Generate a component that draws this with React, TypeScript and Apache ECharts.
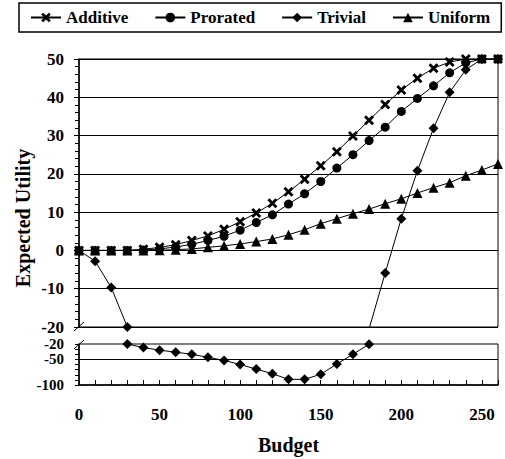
import React, { useEffect, useRef } from 'react';
import * as echarts from 'echarts';

const budget = [0, 10, 20, 30, 40, 50, 60, 70, 80, 90, 100, 110, 120, 130, 140, 150, 160, 170, 180, 190, 200, 210, 220, 230, 240, 250, 260];
const additive = [0, 0, 0, 0, 0.3, 0.8, 1.5, 2.6, 3.8, 5.5, 7.5, 9.8, 12.3, 15.3, 18.6, 22.1, 25.8, 29.9, 34.0, 38.1, 41.9, 45.0, 47.6, 49.2, 50, 50, 50];
const prorated = [0, 0, 0, 0, 0.1, 0.4, 0.9, 1.6, 2.6, 3.7, 5.3, 7.3, 9.3, 12.1, 14.8, 18.0, 21.5, 25.0, 28.7, 32.2, 36.3, 39.7, 43.0, 46.4, 49.0, 50, 50];
const trivial = [0, -2.8, -9.7, -20, -27, -32, -36, -40, -46, -52, -60, -69, -78, -89, -89, -79, -59, -40, -20.5, -5.9, 8.3, 20.8, 31.9, 41.3, 47.2, 50, 50];
const uniform = [0, 0, 0, 0, 0, 0.05, 0.2, 0.4, 0.8, 1.2, 1.7, 2.3, 3.0, 4.1, 5.4, 7.0, 8.3, 9.6, 10.8, 12.2, 13.5, 15.0, 16.4, 17.7, 19.5, 21.0, 22.6];
const xTickLabels = [0, 50, 100, 150, 200, 250];
const lowerTickLabels = [-20, -50, -100];
const seriesNames = ['Additive', 'Prorated', 'Trivial', 'Uniform'];

export default function App() {
  const ref = useRef<HTMLDivElement>(null);
  useEffect(() => {
    const chart = echarts.init(ref.current as HTMLDivElement, null, { renderer: 'svg' });
    const font = 'Liberation Serif';
    const pts = (vals: number[]) => budget.map((b, i) => [b, vals[i]]);
    const cross = 'path://M2,0 L5,3 L8,0 L10,2 L7,5 L10,8 L8,10 L5,7 L2,10 L0,8 L3,5 L0,2 Z';
    const base = {
      type: 'line',
      clip: true,
      lineStyle: { color: '#000', width: 1 },
      itemStyle: { color: '#000' },
      emphasis: { disabled: true },
    };
    const labelStyle = { color: '#000', fontFamily: font, fontWeight: 'bold', fontSize: 17 };
    const left = 79;
    const right = 7;
    const option: any = {
      animation: false,
      backgroundColor: '#fff',
      textStyle: { fontFamily: font },
      legend: {
        data: seriesNames,
        left: 19,
        top: 3,
        padding: [6, 11, 6, 11],
        itemWidth: 30,
        itemHeight: 12,
        itemGap: 26,
        borderColor: '#000',
        borderWidth: 1.5,
        textStyle: labelStyle,
      },
      grid: [
        { left, right, top: 59, height: 268, show: true, borderColor: '#000', borderWidth: 1, backgroundColor: 'transparent' },
        { left, right, top: 344, height: 41, show: true, borderColor: '#000', borderWidth: 1, backgroundColor: 'transparent' },
      ],
      xAxis: [
        {
          type: 'value', gridIndex: 0, min: 0, max: 260, interval: 10,
          axisLine: { show: true, lineStyle: { color: '#000', width: 1 } },
          axisTick: { show: false }, axisLabel: { show: false }, splitLine: { show: false },
        },
        {
          type: 'value', gridIndex: 1, min: 0, max: 260, interval: 10,
          axisLine: { show: true, lineStyle: { color: '#000', width: 1.5 } },
          axisTick: { show: true, inside: true, length: 5, lineStyle: { color: '#000' } },
          axisLabel: {
            ...labelStyle, margin: 21,
            formatter: (v: number) => (xTickLabels.includes(v) ? String(v) : ''),
          },
          splitLine: { show: false },
          name: 'Budget', nameLocation: 'middle', nameGap: 50,
          nameTextStyle: { color: '#000', fontFamily: font, fontWeight: 'bold', fontSize: 20 },
        },
      ],
      yAxis: [
        {
          type: 'value', gridIndex: 0, min: -20, max: 50, interval: 10,
          axisLine: { show: true, lineStyle: { color: '#000', width: 1.5 } },
          axisTick: { show: true, inside: false, length: 5, lineStyle: { color: '#000' } },
          minorTick: { show: true, splitNumber: 5, length: 4, lineStyle: { color: '#000' } },
          axisLabel: { ...labelStyle, margin: 15, lineHeight: 13 },
          splitLine: { show: true, lineStyle: { color: '#000', width: 1 } },
        },
        {
          type: 'value', gridIndex: 1, min: -100, max: -20, interval: 10,
          axisLine: { show: true, lineStyle: { color: '#000', width: 1.5 } },
          axisTick: { show: true, inside: false, length: 4, lineStyle: { color: '#000' } },
          axisLabel: {
            ...labelStyle, fontSize: 15, margin: 15, lineHeight: 12,
            formatter: (v: number) => (lowerTickLabels.includes(v) ? String(v) : ''),
          },
          splitLine: { show: false },
        },
      ],
      graphic: [
        {
          type: 'text', x: 23, y: 218, rotation: Math.PI / 2,
          style: { text: 'Expected Utility', fill: '#000', fontFamily: font, fontWeight: 'bold', fontSize: 20, align: 'center', verticalAlign: 'middle' },
        },
        { type: 'line', shape: { x1: 74, y1: 331, x2: 84, y2: 322 }, style: { stroke: '#000', lineWidth: 1 } },
        { type: 'line', shape: { x1: 74, y1: 349, x2: 84, y2: 340 }, style: { stroke: '#000', lineWidth: 1 } },
      ],
      series: [
        { ...base, name: 'Additive', data: pts(additive), symbol: cross, symbolSize: 10, xAxisIndex: 0, yAxisIndex: 0 },
        { ...base, name: 'Prorated', data: pts(prorated), symbol: 'circle', symbolSize: 9, xAxisIndex: 0, yAxisIndex: 0 },
        { ...base, name: 'Trivial', data: pts(trivial), symbol: 'diamond', symbolSize: 10, xAxisIndex: 0, yAxisIndex: 0 },
        { ...base, name: 'Uniform', data: pts(uniform), symbol: 'triangle', symbolSize: 10, xAxisIndex: 0, yAxisIndex: 0 },
        {
          ...base, name: 'Trivial', data: pts(trivial), symbol: 'diamond', symbolSize: 10, xAxisIndex: 1, yAxisIndex: 1,
          markLine: {
            silent: true, symbol: 'none', label: { show: false },
            lineStyle: { color: '#000', width: 1, type: 'solid' },
            data: [{ yAxis: -50 }],
          },
        },
      ],
    };
    chart.setOption(option);
    return () => chart.dispose();
  }, []);
  return <div ref={ref} style={{ position: 'fixed', left: 0, top: 0, width: 505, height: 459, background: '#fff' }} />;
}
